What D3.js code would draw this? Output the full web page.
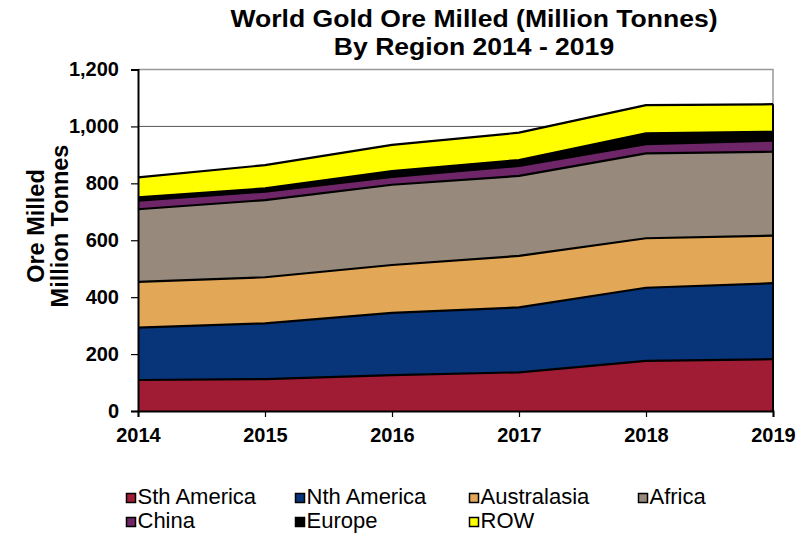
<!DOCTYPE html>
<html>
<head>
<meta charset="utf-8">
<script src="https://cdn.jsdelivr.net/npm/d3@7"></script>
<style>
  html, body { margin: 0; padding: 0; background: #fff; }
  svg { display: block; font-family: "Liberation Sans", Arial, sans-serif; }
</style>
</head>
<body>
<svg id="chart" width="807" height="535"></svg>
<script>
// Ore milled by region, million tonnes
const years = [2014, 2015, 2016, 2017, 2018, 2019];
const sthAmerica = [109, 112, 126, 136, 176, 182];
const nthAmerica = [184, 196, 219, 228, 257, 267];
const australasia = [161, 162, 168, 181, 174, 167];
const africa = [255, 271, 282, 281, 298, 295];
const china = [30, 30, 28, 35, 33, 39];
const europe = [12, 11, 20, 21, 38, 31];
const row = [70, 82, 92, 96, 99, 97];

const seriesNames = ["Sth America", "Nth America", "Australasia", "Africa", "China", "Europe", "ROW"];
const seriesValues = [sthAmerica, nthAmerica, australasia, africa, china, europe, row];
const seriesColors = ["#A01C35", "#08357A", "#E2A857", "#978A7D", "#6E2668", "#000000", "#FFFF00"];
const yTicks = [0, 200, 400, 600, 800, 1000, 1200];

const svg = d3.select("#chart");
const plot = { left: 138, right: 773, top: 69.5, bottom: 411 };

const x = d3.scaleLinear().domain([years[0], years[years.length - 1]]).range([plot.left, plot.right]);
const y = d3.scaleLinear().domain([0, 1200]).range([plot.bottom, plot.top]);

// Table rows keyed by series name for the stack layout
const table = years.map((yr, i) => {
  const r = { year: yr };
  seriesNames.forEach((n, k) => { r[n] = seriesValues[k][i]; });
  return r;
});
const stacked = d3.stack().keys(seriesNames)(table);

// gridline and plot frame
svg.append("line")
  .attr("x1", plot.left).attr("x2", plot.right)
  .attr("y1", y(1000)).attr("y2", y(1000))
  .attr("stroke", "#555").attr("stroke-width", 1);
svg.append("path")
  .attr("d", `M${plot.left},${y(1200)}H${plot.right}V${plot.bottom}`)
  .attr("fill", "none").attr("stroke", "#999").attr("stroke-width", 1.5);

const area = d3.area()
  .x(d => x(d.data.year))
  .y0(d => y(d[0]))
  .y1(d => y(d[1]));
const topLine = d3.line()
  .x(d => x(d.data.year))
  .y(d => y(d[1]));

const layers = svg.append("g");
layers.selectAll("path.area")
  .data(stacked)
  .join("path")
  .attr("class", "area")
  .attr("d", area)
  .attr("fill", (d, i) => seriesColors[i]);
layers.selectAll("path.edge")
  .data(stacked)
  .join("path")
  .attr("class", "edge")
  .attr("d", topLine)
  .attr("fill", "none")
  .attr("stroke", "#000")
  .attr("stroke-width", 2.2)
  .attr("stroke-linejoin", "round");
// right edge of the stacked block
svg.append("line")
  .attr("x1", plot.right).attr("x2", plot.right)
  .attr("y1", y(0)).attr("y2", y(d3.sum(seriesValues, s => s[s.length - 1])))
  .attr("stroke", "#000").attr("stroke-width", 2);

// axes
const yAxis = svg.append("g")
  .attr("transform", `translate(${plot.left},0)`)
  .call(d3.axisLeft(y).tickValues(yTicks).tickSize(7).tickPadding(12).tickFormat(d3.format(",")));
const xAxis = svg.append("g")
  .attr("transform", `translate(0,${plot.bottom})`)
  .call(d3.axisBottom(x).tickValues(years).tickSize(6).tickPadding(11).tickFormat(d3.format("d")));
[yAxis, xAxis].forEach(g => {
  g.select(".domain").attr("stroke", "#000").attr("stroke-width", 2);
  g.selectAll(".tick line").attr("stroke", "#000").attr("stroke-width", 1.2);
  g.selectAll(".tick text")
    .attr("fill", "#000")
    .style("font-family", '"Liberation Sans", Arial, sans-serif')
    .style("font-size", "20px")
    .style("font-weight", "bold");
});

// title (slightly widened face)
const title = svg.append("text")
  .attr("transform", "translate(474,0) scale(1.13,1)")
  .attr("text-anchor", "middle")
  .style("font-size", "23.5px").style("font-weight", "bold");
title.append("tspan").attr("x", 0).attr("y", 27).text("World Gold Ore Milled (Million Tonnes)");
title.append("tspan").attr("x", 0).attr("y", 55).text("By Region 2014 - 2019");

// y-axis title
const yTitle = svg.append("text")
  .attr("transform", "translate(0,226) rotate(-90)")
  .attr("text-anchor", "middle")
  .style("font-size", "23.5px").style("font-weight", "bold");
yTitle.append("tspan").attr("x", 0).attr("y", 44).text("Ore Milled");
yTitle.append("tspan").attr("x", 0).attr("y", 68).text("Million Tonnes");

// legend
const legendCols = [126, 295, 469, 638];
const legendRows = [498, 522];
const legend = svg.append("g");
seriesNames.forEach((name, i) => {
  const cx = legendCols[i % 4];
  const cy = legendRows[Math.floor(i / 4)];
  const item = legend.append("g").attr("transform", `translate(${cx},${cy})`);
  item.append("rect")
    .attr("x", 0.5).attr("y", -4.5).attr("width", 9).attr("height", 9)
    .attr("fill", seriesColors[i]).attr("stroke", "#000").attr("stroke-width", 1.5);
  item.append("text")
    .attr("x", 11.5).attr("y", 5.5)
    .style("font-size", "22px")
    .text(name);
});
</script>
</body>
</html>
